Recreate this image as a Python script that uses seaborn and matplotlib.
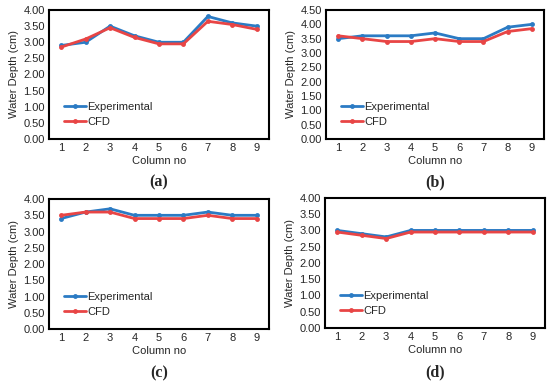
import matplotlib
matplotlib.use("Agg")
import matplotlib.pyplot as plt
import seaborn as sns
import pandas as pd

columns = [1, 2, 3, 4, 5, 6, 7, 8, 9]

exp_a = [2.90, 3.00, 3.50, 3.20, 3.00, 3.00, 3.80, 3.60, 3.50]
cfd_a = [2.85, 3.10, 3.45, 3.15, 2.95, 2.95, 3.65, 3.55, 3.40]

exp_b = [3.50, 3.60, 3.60, 3.60, 3.70, 3.50, 3.50, 3.90, 4.00]
cfd_b = [3.60, 3.50, 3.40, 3.40, 3.50, 3.40, 3.40, 3.75, 3.85]

exp_c = [3.40, 3.60, 3.70, 3.50, 3.50, 3.50, 3.60, 3.50, 3.50]
cfd_c = [3.50, 3.60, 3.60, 3.40, 3.40, 3.40, 3.50, 3.40, 3.40]

exp_d = [3.00, 2.90, 2.80, 3.00, 3.00, 3.00, 3.00, 3.00, 3.00]
cfd_d = [2.95, 2.85, 2.75, 2.95, 2.95, 2.95, 2.95, 2.95, 2.95]

panel_labels = ["(a)", "(b)", "(c)", "(d)"]
y_max = [4.0, 4.5, 4.0, 4.0]
series_names = ["Experimental", "CFD"]
x_label = "Column no"
y_label = "Water Depth (cm)"

colors = {"Experimental": "#2B7BC4", "CFD": "#E84545"}

sns.set_theme(style="white")
plt.rcParams["font.family"] = ["Liberation Sans", "DejaVu Sans"]

fig = plt.figure(figsize=(5.5, 3.85), dpi=100)

positions = [
    (0.089, 0.639, 0.400, 0.335),
    (0.593, 0.639, 0.396, 0.335),
    (0.089, 0.145, 0.400, 0.338),
    (0.591, 0.148, 0.400, 0.338),
]

data = [(exp_a, cfd_a), (exp_b, cfd_b), (exp_c, cfd_c), (exp_d, cfd_d)]
fs = 8

for pos, (e, c), lab, ym in zip(positions, data, panel_labels, y_max):
    ax = fig.add_axes(pos)
    df = pd.DataFrame({
        "Column": columns * 2,
        "Depth": e + c,
        "Series": [series_names[0]] * len(columns) + [series_names[1]] * len(columns),
    })
    sns.lineplot(data=df, x="Column", y="Depth", hue="Series", palette=colors,
                 marker="o", markersize=3.5, markeredgewidth=0, linewidth=2.0,
                 ax=ax)
    ax.set_xlim(0.5, 9.5)
    ax.set_ylim(0, ym)
    ticks = [i * 0.5 for i in range(int(ym / 0.5) + 1)]
    ax.set_yticks(ticks)
    ax.set_yticklabels([f"{t:.2f}" for t in ticks], fontsize=fs)
    ax.set_xticks(columns)
    ax.set_xticklabels([str(x) for x in columns], fontsize=fs)
    ax.tick_params(axis="both", length=0, pad=3)
    ax.set_xlabel(x_label, fontsize=fs, labelpad=2)
    ax.set_ylabel(y_label, fontsize=fs, labelpad=3)
    for s in ax.spines.values():
        s.set_color("black")
        s.set_linewidth(1.5)
    ax.grid(False)
    ax.legend(loc="lower left", bbox_to_anchor=(0.05, 0.06), frameon=False,
              fontsize=fs, handlelength=1.9, handletextpad=0.15,
              labelspacing=0.45, borderaxespad=0)
    ax.text(0.5, -0.34, lab, transform=ax.transAxes, ha="center", va="center",
            fontsize=11.5, fontweight="bold", family=["Liberation Serif", "DejaVu Serif"])

fig.savefig("out.png", dpi=100)
